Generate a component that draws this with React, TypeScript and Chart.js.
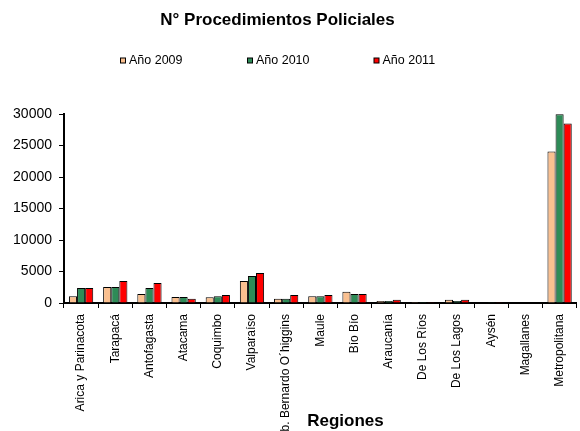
import React, { useEffect, useRef } from "react";
import { Chart, registerables } from "chart.js";

Chart.register(...registerables);

const TITLE = "N° Procedimientos Policiales";
const X_TITLE = "Regiones";

const regions = [
  "Arica y Parinacota",
  "Tarapacá",
  "Antofagasta",
  "Atacama",
  "Coquimbo",
  "Valparaíso",
  "Lib. Bernardo O´higgins",
  "Maule",
  "Bío Bío",
  "Araucanía",
  "De Los Ríos",
  "De Los Lagos",
  "Aysén",
  "Magallanes",
  "Metropolitana",
];

const seriesNames = ["Año 2009", "Año 2010", "Año 2011"];

const values2009 = [1060, 2540, 1430, 950, 900, 3490, 690, 1060, 1800, 320, 150, 530, 40, 50, 24060];
const values2010 = [2380, 2540, 2380, 950, 1060, 4280, 690, 1060, 1430, 320, 150, 320, 30, 40, 29950];
const values2011 = [2380, 3490, 3170, 690, 1270, 4750, 1270, 1270, 1430, 530, 120, 530, 30, 40, 28510];

const seriesColors = ["#FAC090", "#2E8B57", "#FF0000"];

const yTicks = [0, 5000, 10000, 15000, 20000, 25000, 30000];

const FONT = "'Liberation Sans', Arial, sans-serif";

// positions of the custom title / legend / axis title (style constants)
const TITLE_POS = { x: 277.5, y: 20 };
const LEGEND_POS = [
  { x: 120.5, y: 60.5 },
  { x: 247.5, y: 60.5 },
  { x: 374, y: 60.5 },
];
const XTITLE_POS = { x: 345.5, y: 421 };

const decorPlugin = {
  id: "decor",
  afterDraw(chart: any) {
    const ctx = chart.ctx as CanvasRenderingContext2D;
    ctx.save();
    // title
    ctx.fillStyle = "#000";
    ctx.font = `bold 17px ${FONT}`;
    ctx.textAlign = "center";
    ctx.textBaseline = "middle";
    ctx.fillText(TITLE, TITLE_POS.x, TITLE_POS.y);
    // legend
    ctx.font = `12.5px ${FONT}`;
    ctx.textAlign = "left";
    chart.data.datasets.forEach((ds: any, i: number) => {
      const p = LEGEND_POS[i];
      const s = 5;
      ctx.fillStyle = ds.backgroundColor;
      ctx.fillRect(p.x, p.y - s / 2, s, s);
      ctx.strokeStyle = "#000";
      ctx.lineWidth = 1;
      ctx.strokeRect(p.x, p.y - s / 2, s, s);
      ctx.fillStyle = "#000";
      ctx.fillText(ds.label, p.x + 8.5, p.y);
    });
    // x axis title
    ctx.font = `bold 17px ${FONT}`;
    ctx.textAlign = "center";
    ctx.fillText(X_TITLE, XTITLE_POS.x, XTITLE_POS.y);
    ctx.restore();
  },
};

export default function App() {
  const canvasRef = useRef<HTMLCanvasElement | null>(null);

  useEffect(() => {
    if (!canvasRef.current) return;
    const datasets = [values2009, values2010, values2011].map((vals, i) => ({
      label: seriesNames[i],
      data: vals,
      backgroundColor: seriesColors[i],
      borderColor: "#000",
      borderWidth: 1,
      categoryPercentage: 0.71,
      barPercentage: 1.0,
    }));
    const chart = new Chart(canvasRef.current, {
      type: "bar",
      data: { labels: regions, datasets },
      plugins: [decorPlugin],
      options: {
        animation: false,
        responsive: true,
        maintainAspectRatio: false,
        layout: { padding: { top: 114, left: 0, right: 0, bottom: 0 } },
        plugins: {
          legend: { display: false },
          title: { display: false },
          tooltip: { enabled: false },
        },
        scales: {
          x: {
            grid: {
              display: true,
              drawOnChartArea: false,
              drawTicks: true,
              tickLength: 5,
              color: "#000",
              offset: true,
            },
            border: { display: true, color: "#000", width: 2 },
            ticks: {
              autoSkip: false,
              minRotation: 90,
              maxRotation: 90,
              padding: 6,
              color: "#000",
              font: { family: FONT, size: 12 },
            },
            afterFit: (scale: any) => {
              scale.height = 128;
            },
          },
          y: {
            min: 0,
            max: 30000,
            afterBuildTicks: (scale: any) => {
              scale.ticks = yTicks.map((v) => ({ value: v }));
            },
            grid: {
              display: true,
              drawOnChartArea: false,
              drawTicks: true,
              tickLength: 5,
              color: "#000",
            },
            border: { display: true, color: "#000", width: 2 },
            ticks: {
              padding: 7,
              color: "#000",
              font: { family: FONT, size: 14 },
              callback: (v: any) => String(v),
            },
            afterFit: (scale: any) => {
              scale.width = 64;
            },
          },
        },
      },
    });
    return () => chart.destroy();
  }, []);

  return (
    <div style={{ position: "fixed", left: 0, top: 0, width: 580, height: 431, background: "#fff" }}>
      <canvas ref={canvasRef} />
    </div>
  );
}
